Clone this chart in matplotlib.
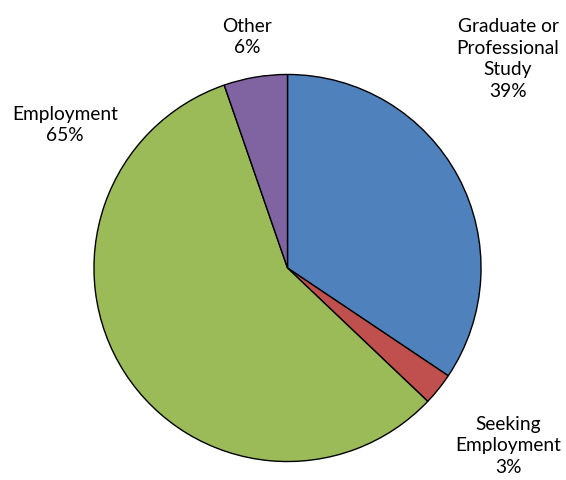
import matplotlib.pyplot as plt

# slice sizes (percent of circle)
categories = ["Graduate or Professional Study", "Seeking Employment", "Employment", "Other"]
sizes = [34.4, 2.7, 57.6, 5.3]
colors = ["#4f81bd", "#c0504d", "#9bbb59", "#8064a2"]

# label texts as printed on the chart
label_texts = ["Graduate or\nProfessional\nStudy\n39%", "Seeking\nEmployment\n3%",
               "Employment\n65%", "Other\n6%"]
label_pos = [(508, 59), (508, 446), (65, 125), (247, 37)]  # pixel centres

plt.rcParams['font.family'] = ['Lato', 'DejaVu Sans']

W, H = 566, 480
fig = plt.figure(figsize=(W / 100, H / 100), dpi=100)

cx, cy, r = 287.5, 268, 194.5
ax = fig.add_axes([(cx - r) / W, (H - cy - r) / H, 2 * r / W, 2 * r / H])
ax.pie(sizes, colors=colors, startangle=90, counterclock=False,
       wedgeprops={'edgecolor': 'black', 'linewidth': 1.0})
ax.set_xlim(-1.005, 1.005)
ax.set_ylim(-1.005, 1.005)
ax.set_aspect('equal')
ax.axis('off')

for txt, (px, py) in zip(label_texts, label_pos):
    fig.text(px / W, 1 - py / H, txt, ha='center', va='center',
             fontsize=13.8, linespacing=1.35, color='black')

plt.savefig('out.png', dpi=100)
